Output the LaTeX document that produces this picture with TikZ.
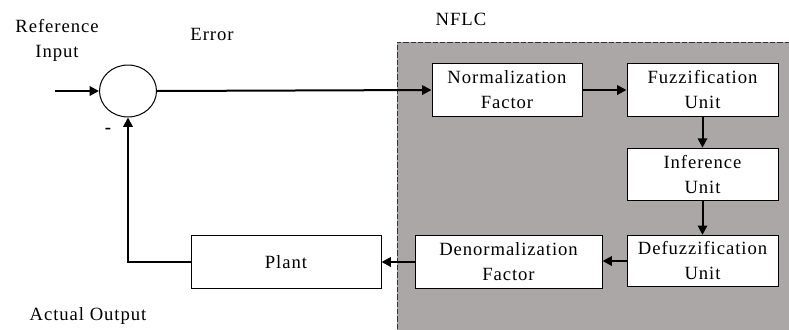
\documentclass[tikz,border=0pt]{standalone}
\usepackage{fontspec}
\setmainfont{Liberation Serif}[LetterSpace=5]
\usetikzlibrary{arrows.meta,shapes.geometric}
\definecolor{nflcgray}{RGB}{171,167,167}
\begin{document}
\begin{tikzpicture}[x=0.75pt,y=-0.75pt,
  font=\fontsize{14}{18.75}\selectfont,
  blk/.style={draw=black,line width=0.75pt,fill=white,align=center,inner sep=1pt,minimum height=39.5pt},
  conn/.style={line width=1.5pt,-{Triangle[length=7pt,width=7pt]}},
  lbl/.style={align=center,inner sep=0pt}]
\useasboundingbox (0,0) rectangle (789,329);
% NFLC region
\fill[nflcgray] (397,42) rectangle (800,340);
\draw[line width=0.75pt,dash pattern=on 4pt off 1.5pt,black!80] (397,329) -- (397,42) -- (789,42);
\node[lbl] (nflc) at (461,19) {NFLC};
% labels
\node[lbl] (ref) at (57,40) {Reference\\Input};
\node[lbl] (err) at (212,34) {Error};
\node[lbl] (act) at (88,316) {Actual Output};
\node[lbl] (minus) at (108,131) {\bfseries -};
% summing junction
\node[ellipse,draw=black,line width=0.75pt,minimum width=42.75pt,minimum height=39pt,inner sep=0pt] (sum) at (128,91) {};
\coordinate (in) at (55,91);
% blocks
\node[blk,minimum width=112.5pt] (norm) at (507,90) {Normalization\\Factor};
\node[blk,minimum width=113.25pt] (fuzz) at (702.5,90) {Fuzzification\\Unit};
\node[blk,minimum width=113.25pt] (inf) at (702.5,174.5) {Inference\\Unit};
\node[blk,minimum width=113.25pt,minimum height=38.5pt] (defuzz) at (702.5,261) {Defuzzification\\Unit};
\node[blk,minimum width=140.25pt] (denorm) at (508.5,262) {Denormalization\\Factor};
\node[blk,minimum width=142.5pt] (plant) at (286,262) {Plant};
% connectors
\draw[conn] (in) -- (sum.west);
\draw[conn] (sum.east) -- (norm.west);
\draw[conn] (norm.east) -- (fuzz.west);
\draw[conn] (fuzz.south) -- (inf.north);
\draw[conn] (inf.south) -- (defuzz.north);
\draw[conn] (defuzz.west) -- (defuzz.west -| denorm.east);
\draw[conn] (denorm.west) -- (denorm.west -| plant.east);
\draw[conn] (plant.west) -| (sum.south);
\end{tikzpicture}
\end{document}
